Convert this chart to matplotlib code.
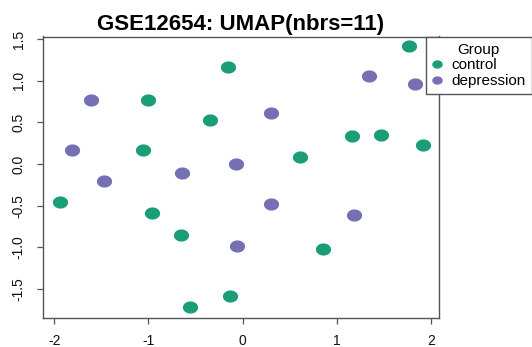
import numpy as np
import matplotlib
matplotlib.use("Agg")
import matplotlib.pyplot as plt
from matplotlib.path import Path
from matplotlib.lines import Line2D

plt.rcParams['font.family'] = ['Liberation Sans', 'DejaVu Sans']

# UMAP embedding coordinates per group
control_x = [1.77, -0.16, -1.00, -0.35, -1.06, 1.16, 1.47, 1.92, 0.61,
             -1.94, -0.96, -0.65, -0.13, -0.56, 0.85]
control_y = [1.42, 1.16, 0.77, 0.53, 0.17, 0.34, 0.35, 0.23, 0.08,
             -0.46, -0.59, -0.85, -1.58, -1.72, -1.02]
depression_x = [1.34, 1.83, -1.61, -1.81, 0.30, -0.07, -0.64, -1.47,
                0.30, 1.18, -0.06]
depression_y = [1.05, 0.96, 0.77, 0.17, 0.61, 0.00, -0.11, -0.20,
                -0.48, -0.61, -0.99]
groups = ["control", "depression"]
colors = ["#1B9E77", "#7570B3"]
x_ticks = [-2, -1, 0, 1, 2]
y_ticks = [-1.5, -1.0, -0.5, 0.0, 0.5, 1.0, 1.5]

W, H = 532, 347
fig = plt.figure(figsize=(W / 100, H / 100), dpi=100)
ax = fig.add_axes([43 / W, 1 - 318 / H, (439 - 43) / W, (318 - 36.5) / H])

# slightly wide dot marker
t = np.linspace(0, 2 * np.pi, 60)
dot = Path(np.column_stack([1.25 * np.cos(t), np.sin(t)]), closed=True)

ax.scatter(control_x, control_y, s=120, marker=dot, color=colors[0],
           linewidths=0)
ax.scatter(depression_x, depression_y, s=120, marker=dot, color=colors[1],
           linewidths=0)

ax.set_xlim(-2.12, 2.085)
ax.set_ylim(-1.848, 1.53)
ax.set_xticks(x_ticks)
ax.set_xticklabels([str(v) for v in x_ticks])
ax.set_yticks(y_ticks)
ax.set_yticklabels([f"{v:.1f}" for v in y_ticks], rotation=90, va='center')
ax.tick_params(length=4.5, width=0.9, color='#555555', labelsize=10,
               labelcolor='#111111')
ax.tick_params(axis='x', pad=7)
ax.tick_params(axis='y', pad=8)
for sp in ax.spines.values():
    sp.set_color('#555555')
    sp.set_linewidth(1.0)

ax.set_title("GSE12654: UMAP(nbrs=11)", fontsize=16, fontweight='bold',
             pad=5)

handles = [Line2D([], [], linestyle='none', marker=dot, markersize=7.5,
                  color=c, markeredgewidth=0) for c in colors]
leg = fig.legend(handles, groups, title="Group", loc='upper left',
                 bbox_to_anchor=(426 / W, 1 - 36.5 / H), fontsize=11,
                 title_fontsize=11, frameon=True, fancybox=False,
                 borderpad=0.4, handlelength=0.7, handletextpad=0.55,
                 labelspacing=0.12, borderaxespad=0)
leg.get_frame().set_edgecolor('#555555')
leg.get_frame().set_linewidth(1.0)
leg.get_frame().set_facecolor('white')
leg.get_frame().set_alpha(1)

fig.savefig("out.png", dpi=100)
